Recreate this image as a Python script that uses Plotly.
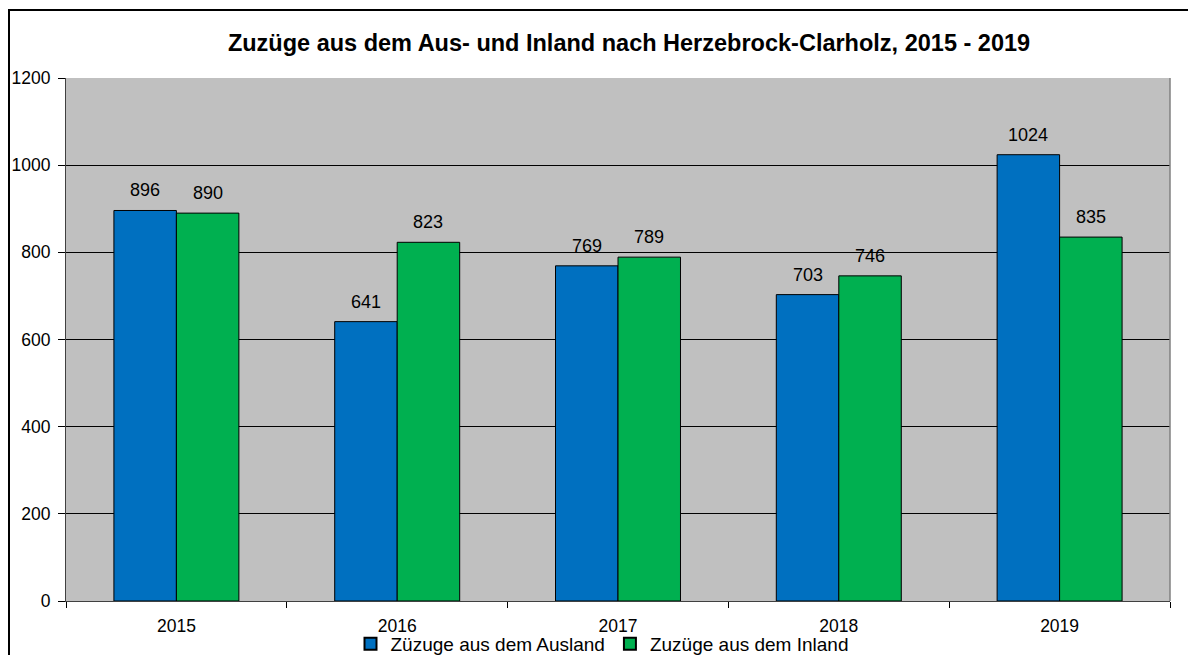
import plotly.graph_objects as go

years = ["2015", "2016", "2017", "2018", "2019"]
ausland = [896, 641, 769, 703, 1024]
inland = [890, 823, 789, 746, 835]
y_ticks = [0, 200, 400, 600, 800, 1000, 1200]

# page body has an 8px margin; figure sized to reach the 1196x655 window edges
W, H = 1188, 647
ml, mr, mt, mb = 58, 26, 70, 54
pw, ph = W - ml - mr, H - mt - mb

blue, green = "#0070C0", "#00B050"

fig = go.Figure()
fig.add_trace(go.Bar(x=years, y=ausland, name="Züzuge aus dem Ausland",
                     marker=dict(color=blue, line=dict(color="#000000", width=1))))
fig.add_trace(go.Bar(x=years, y=inland, name="Zuzüge aus dem Inland",
                     marker=dict(color=green, line=dict(color="#000000", width=1))))

bar_px = pw / len(years) * (1 - 0.434) / 2
for i, (va, vi) in enumerate(zip(ausland, inland)):
    for v, sh in ((va, -bar_px / 2), (vi, bar_px / 2)):
        fig.add_annotation(x=i, y=v, xref="x", yref="y", text=str(v), showarrow=False,
                           xshift=sh, yshift=8, yanchor="bottom",
                           font=dict(size=18, color="#000000"))

fig.update_layout(
    width=W, height=H,
    margin=dict(l=ml, r=mr, t=mt, b=mb, autoexpand=False),
    paper_bgcolor="#FFFFFF", plot_bgcolor="#C0C0C0",
    font=dict(family="Liberation Sans, Arial, sans-serif", size=17.5, color="#000000"),
    title=dict(text="<b>Zuzüge aus dem Aus- und Inland nach Herzebrock-Clarholz, 2015 - 2019</b>",
               x=621 / W, xanchor="center", xref="container",
               y=1 - 35 / H, yanchor="middle", yref="container",
               font=dict(size=23.5)),
    barmode="group", bargap=0.434, bargroupgap=0,
    showlegend=True,
    legend=dict(orientation="h", x=(594 - ml) / pw, xanchor="center", xref="paper",
                y=-(636 - (mt + ph)) / ph, yanchor="middle",
                font=dict(size=19), bgcolor="rgba(0,0,0,0)", itemsizing="constant"),
)
fig.update_yaxes(range=[0, 1200], tickvals=y_ticks, ticks="outside", ticklen=7,
                 tickcolor="#000000", showgrid=True, gridcolor="#000000", gridwidth=1,
                 showline=True, linecolor="#404040", linewidth=1, zeroline=False,
                 tickfont=dict(size=17.5), ticklabelstandoff=4, automargin=False)
fig.update_xaxes(type="category", ticks="outside", ticklen=6, tickcolor="#000000",
                 tickson="boundaries", showline=True, linecolor="#404040", linewidth=1,
                 tickfont=dict(size=17.5), ticklabelstandoff=9, automargin=False,
                 tickangle=0)

# right frame of plot area
fig.add_shape(type="line", xref="paper", yref="paper", x0=1, x1=1, y0=0, y1=1,
              line=dict(color="#808080", width=1.5))
# outer chart border
fig.add_shape(type="rect", xref="paper", yref="paper",
              x0=(1 - ml) / pw, x1=(W + 20 - ml) / pw,
              y0=-(H + 40 - mt - ph) / ph, y1=1 + (mt - 2) / ph,
              line=dict(color="#000000", width=2), fillcolor="rgba(0,0,0,0)", layer="above")

fig.write_html("out.html")
